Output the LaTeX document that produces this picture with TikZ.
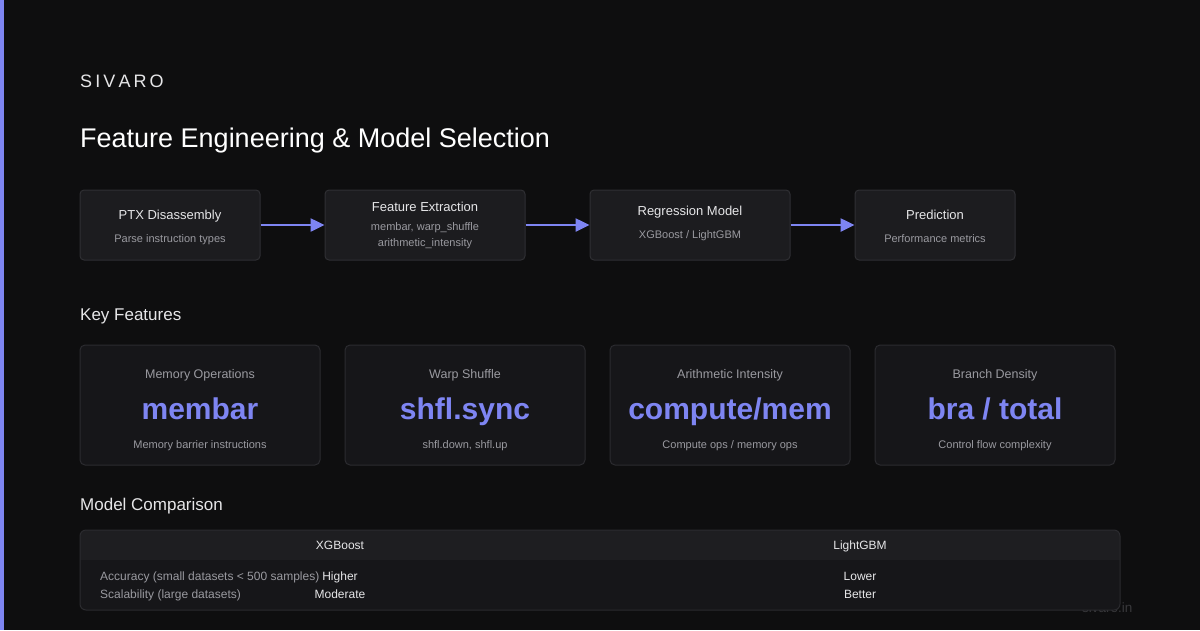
\documentclass[tikz,border=0pt]{standalone}
\usepackage{fontspec}
\setmainfont{Liberation Sans}
\usetikzlibrary{arrows.meta}
\definecolor{bgc}{HTML}{0E0E0F}
\definecolor{accent}{HTML}{7E85F2}
\definecolor{boxfill}{HTML}{1C1C1F}
\definecolor{boxline}{HTML}{2F2F33}
\definecolor{cardfill}{HTML}{161619}
\definecolor{cardline}{HTML}{2B2B2F}
\definecolor{headfill}{HTML}{1E1E21}
\definecolor{txtmain}{HTML}{E6E6E8}
\definecolor{txtsub}{HTML}{9A9AA0}
\definecolor{wmark}{HTML}{38383B}
\tikzset{
  fs/.style={font=\fontsize{#1}{#1}\selectfont, inner sep=0pt},
  flowbox/.style={draw=boxline, fill=boxfill, rounded corners=4pt, line width=1pt, minimum height=70pt, inner sep=0pt},
  card/.style={draw=cardline, fill=cardfill, rounded corners=5pt, line width=1pt, minimum width=240pt, minimum height=120pt, inner sep=0pt},
  ttl/.style={fs=13, text=txtmain, anchor=base},
  sub/.style={fs=11, text=txtsub, anchor=base},
  lbl/.style={fs=12.5, text=txtsub, anchor=base},
  big/.style={font=\fontsize{30}{30}\selectfont\bfseries, inner sep=0pt, text=accent, anchor=base},
  head/.style={fs=17, text=txtmain, anchor=base west},
  flow/.style={draw=accent, line width=2.5pt, -{Triangle[length=14pt,width=13pt]}},
  cell/.style={fs=12, text=txtmain, anchor=base},
  rowlbl/.style={fs=12, text=txtsub, anchor=base west},
}
\begin{document}
\begin{tikzpicture}[x=1pt,y=-1pt]
\fill[bgc] (0,0) rectangle (1200,630);
\useasboundingbox (0,0) rectangle (1200,630);
\fill[accent] (0,0) rectangle (4,630);

% header
\node[fs=18, text=txtmain, anchor=base west] (brand) at (80,87.5) {S\kern3.1ptI\kern3.1ptV\kern3.1ptA\kern3.1ptR\kern3.1ptO};
\node[fs=27, text=white, anchor=base west] (title) at (80,147.5) {Feature Engineering \& Model Selection};

% flow boxes
\node[flowbox, minimum width=180pt] (b1) at (170,225) {};
\node[flowbox, minimum width=200pt] (b2) at (425,225) {};
\node[flowbox, minimum width=200pt] (b3) at (690,225) {};
\node[flowbox, minimum width=160pt] (b4) at (935,225) {};

\node[ttl] (b1t) at (170,219.7) {PTX Disassembly};
\node[sub] (b1s) at (170,242) {Parse instruction types};
\node[ttl] (b2t) at (425,211.7) {Feature Extraction};
\node[sub] (b2s) at (425,230) {membar, warp\_shuffle};
\node[sub] (b2u) at (425,246) {arithmetic\_intensity};
\node[ttl] (b3t) at (690,215.7) {Regression Model};
\node[sub] (b3s) at (690,238) {XGBoost / LightGBM};
\node[ttl] (b4t) at (935,219.7) {Prediction};
\node[sub] (b4s) at (935,242) {Performance metrics};

\draw[flow] (b1.east) -- (b2.west);
\draw[flow] (b2.east) -- (b3.west);
\draw[flow] (b3.east) -- (b4.west);

% key features
\node[head] (kf) at (80,320) {Key Features};

\node[card] (c1) at (200,405) {};
\node[card] (c2) at (465,405) {};
\node[card] (c3) at (730,405) {};
\node[card] (c4) at (995,405) {};

\node[lbl] (c1l) at (200,378.5) {Memory Operations};
\node[big] (c1b) at (200,419.7) {membar};
\node[sub] (c1s) at (200,448) {Memory barrier instructions};

\node[lbl] (c2l) at (465,378.5) {Warp Shuffle};
\node[big] (c2b) at (465,419.7) {shfl.sync};
\node[sub] (c2s) at (465,448) {shfl.down, shfl.up};

\node[lbl] (c3l) at (730,378.5) {Arithmetic Intensity};
\node[big] (c3b) at (730,419.7) {compute/mem};
\node[sub] (c3s) at (730,448) {Compute ops / memory ops};

\node[lbl] (c4l) at (995,378.5) {Branch Density};
\node[big] (c4b) at (995,419.7) {bra / total};
\node[sub] (c4s) at (995,448) {Control flow complexity};

% model comparison
\node[head] (mc) at (80,510) {Model Comparison};

\node[fs=13.5, text=wmark, anchor=base west] (wm) at (1082,612) {sivaro.in};

\begin{scope}
\clip[rounded corners=6pt] (80,530) rectangle (1120,610);
\fill[cardfill] (80,530) rectangle (1120,610);
\fill[headfill] (80,530) rectangle (1120,560);
\end{scope}
\draw[cardline, line width=1pt, rounded corners=6pt] (80,530) rectangle (1120,610);

\node[cell] (h1) at (340,549.5) {XGBoost};
\node[cell] (h2) at (860,549.5) {LightGBM};
\node[rowlbl] (r1) at (100,580) {Accuracy (small datasets < 500 samples)};
\node[rowlbl] (r2) at (100,598) {Scalability (large datasets)};
\node[cell] (r1a) at (340,580) {Higher};
\node[cell] (r1b) at (860,580) {Lower};
\node[cell] (r2a) at (340,598) {Moderate};
\node[cell] (r2b) at (860,598) {Better};
\end{tikzpicture}
\end{document}
